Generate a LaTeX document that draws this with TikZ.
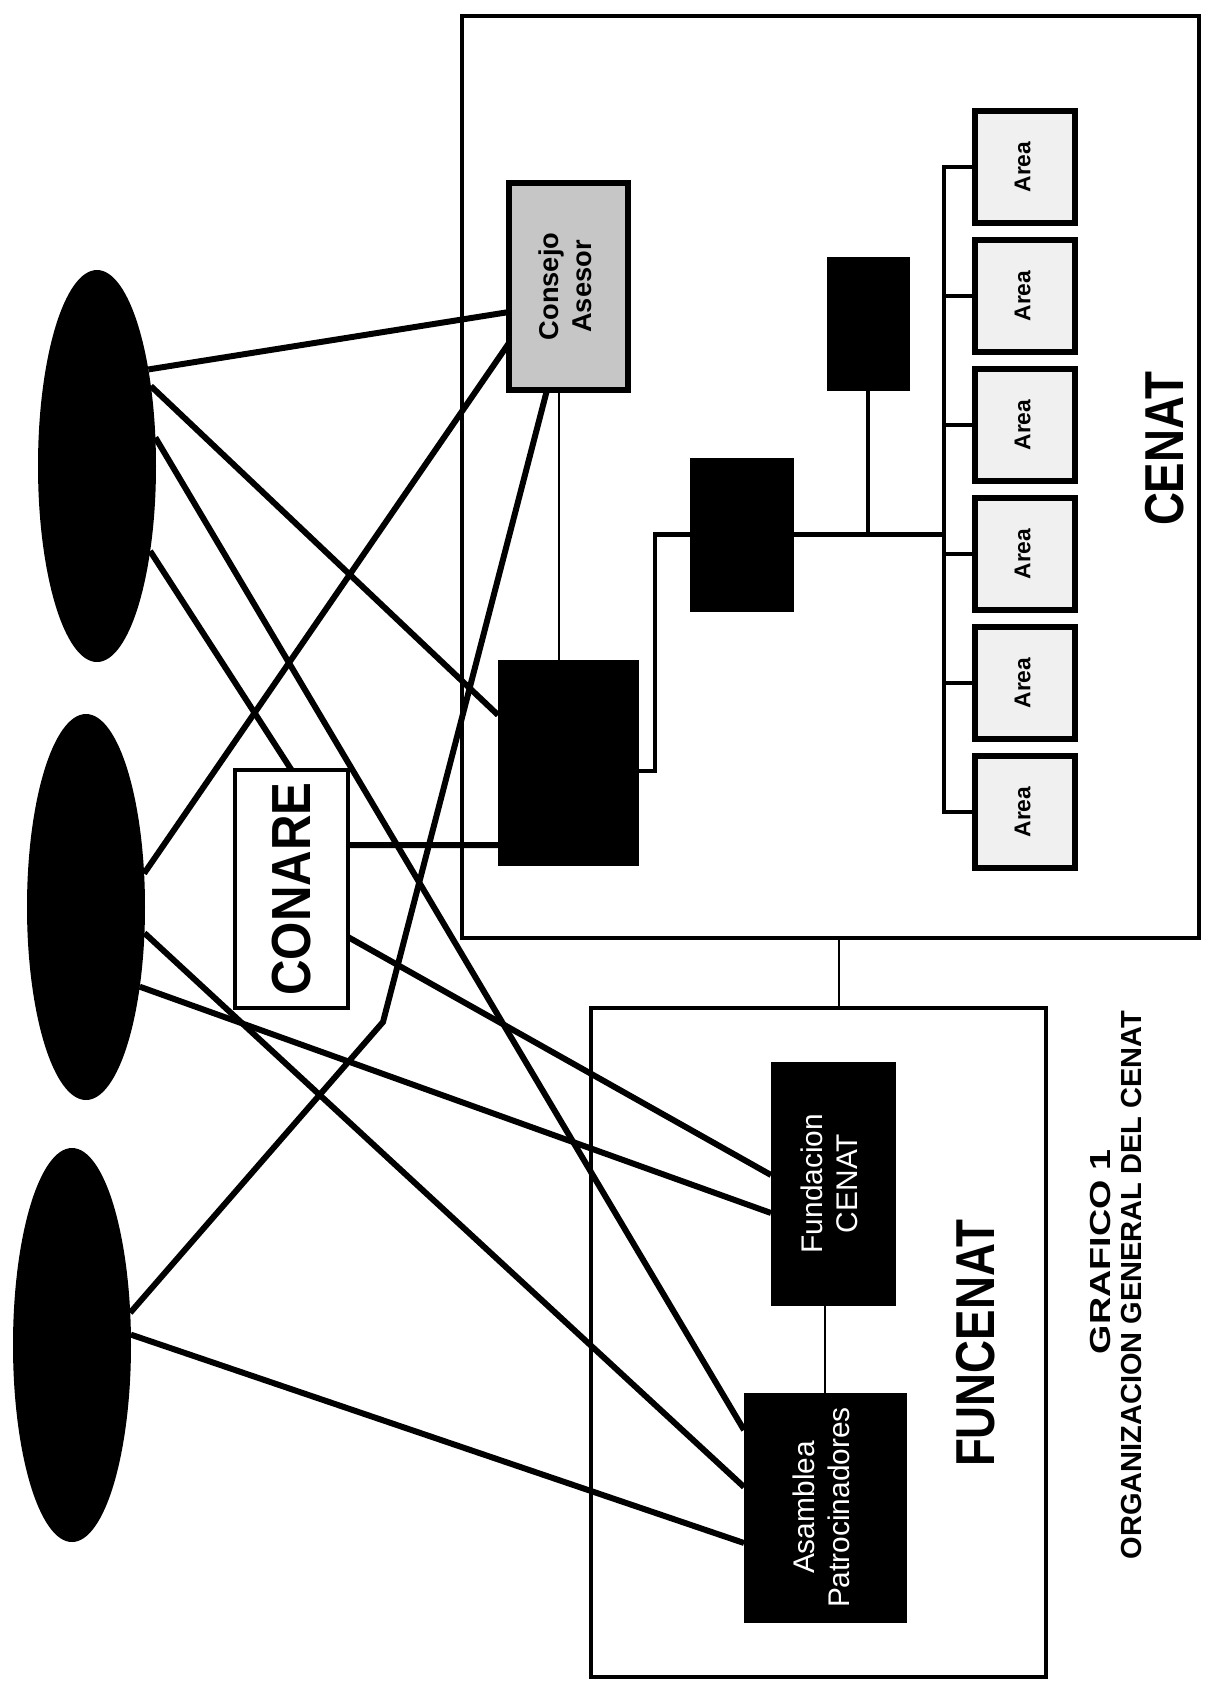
\documentclass[tikz,border=0pt]{standalone}
\usepackage{fontspec}
\setmainfont{Liberation Sans}
\usetikzlibrary{positioning, shapes.geometric, calc, backgrounds}
\newcommand{\vtext}[1]{\rotatebox{90}{\begin{tabular}{@{}c@{}}#1\end{tabular}}}

\begin{document}
\begin{tikzpicture}[x=0.02cm, y=-0.02cm,
  sz/.style 2 args={minimum width=#1*0.02cm, minimum height=#2*0.02cm},
  frame/.style={draw, line width=2.8pt, inner sep=0pt, outer sep=0pt},
  blackbox/.style={fill=black, draw=black, inner sep=0pt, outer sep=0pt,
                   text=white, font=\fontsize{17}{20}\selectfont},
  greybox/.style={draw, line width=3pt, fill=gray!45, inner sep=0pt, outer sep=0pt,
                  font=\fontsize{15.5}{19}\selectfont\bfseries},
  areabox/.style={draw, line width=3pt, fill=gray!12, inner sep=0pt, outer sep=0pt,
                  sz={100}{112}, font=\fontsize{13}{15}\selectfont\bfseries},
  member/.style={ellipse, fill=black, inner sep=0pt, outer sep=0pt},
  link/.style={line width=3.4pt},
  orgline/.style={line width=2.6pt},
  thinline/.style={line width=0.7pt},
  bigtxt/.style={font=\fontsize{26}{28}\selectfont\bfseries},
]
\useasboundingbox (0,0) rectangle (1209,1691);

% --- Frames ---
\node[frame, sz={737}{922}] (cenatbox) at (830.5,477) {};
\node[frame, sz={455}{669}] (funcbox) at (818.5,1342.5) {};

% --- Members ---
\node[member, sz={118}{392}] (e1) at (97,466) {};
\node[member, sz={118}{386}] (e2) at (86,907) {};
\node[member, sz={118}{394}] (e3) at (72,1345) {};

% --- CENAT ---
\node[greybox, sz={119}{207}] (cons) at (568.5,286.5) {\vtext{Consejo\\Asesor}};
\node[blackbox, sz={140}{205}] (dir) at (568,762.5) {};
\node[blackbox, sz={103}{153}] (mid) at (741.5,534.5) {};
\node[blackbox, sz={82}{133}] (small) at (868,323.5) {};
\foreach \i/\y in {1/167,2/296,3/425,4/554,5/683,6/812}
  \node[areabox] (area\i) at (1025,\y) {\vtext{Area}};
\node[bigtxt, rotate=90] (cenatlbl) at (1165,449) {\scalebox{1}[1.2]{CENAT}};

% --- CONARE ---
\node[frame, line width=2.4pt, sz={113}{238}, font=\fontsize{28}{30}\selectfont\bfseries]
  (conare) at (291.5,889) {\rotatebox{90}{\scalebox{1}[1.12]{CONARE}}};

% --- FUNCENAT ---
\node[blackbox, sz={124}{243}] (fund) at (833,1183.5) {\vtext{Fundacion\\CENAT}};
\node[blackbox, sz={162}{229}] (asam) at (825,1507.5) {\vtext{Asamblea\\Patrocinadores}};
\node[bigtxt, rotate=90] (funclbl) at (976,1343) {\scalebox{1}[1.2]{FUNCENAT}};

% --- Title ---
\node[font=\fontsize{16.5}{18}\selectfont\bfseries, rotate=90, align=center] (title)
  at (1116,1285) {\hspace*{38pt}\scalebox{1.3}[1]{GRAFICO 1}\\ORGANIZACION GENERAL DEL CENAT};

% --- Org chart lines ---
\draw[orgline] (area1.west) -- ++(-31,0) -- ($(area6.west)+(-31,0)$) -- (area6.west);
\foreach \i in {2,...,5}
  \draw[orgline] (area\i.west) -- ++(-31,0);
\draw[orgline] (mid.east) -- ($(mid.east -| area1.west)+(-31,0)$);
\draw[orgline] (small.south) -- (small.south |- mid.east);
\draw[orgline] ($(dir.east)+(0,8.5)$) -| ($(mid.west)+(-35,0)$) -- (mid.west);
\draw[thinline] ($(cons.south)+(-9.5,0)$) -- ($(dir.north)+(-9,0)$);
\draw[thinline] ($(cenatbox.south)+(8.5,0)$) -- ($(funcbox.north)+(20.5,0)$);
\draw[thinline] ($(fund.south)+(-8,0)$) -- (asam.north);

% --- Links ---
\coordinate (bend) at (383,1022);
\begin{scope}[on background layer]
  \draw[link] (e1.62) -- ($(cons.west)+(0,25.5)$);
  \draw[link] (e1.56) -- ($(dir.west)+(0,-47.5)$);
  \draw[link] (e1.26) -- ($(asam.west)+(0,-77.5)$);
  \draw[link] (e1.-58) -- (conare.north);
  \draw[link] (e2.30) -- ($(cons.west)+(0,56.5)$);
  \draw[link] (e2.-24) -- ($(asam.west)+(0,-20.5)$);
  \draw[link] (e2.-56) -- ($(fund.west)+(0,29.5)$);
  \draw[link] (e3.29) -- (bend) -- ($(cons.south)+(-21.5,0)$);
  \draw[link] (e3.10) -- ($(asam.west)+(0,35.5)$);
  \draw[link] ($(conare.east)+(0,48)$) -- ($(fund.west)+(0,-8.5)$);
  \draw[link] ($(conare.east)+(0,-44)$) -- ($(dir.west)+(0,82.5)$);
\end{scope}

\end{tikzpicture}
\end{document}
